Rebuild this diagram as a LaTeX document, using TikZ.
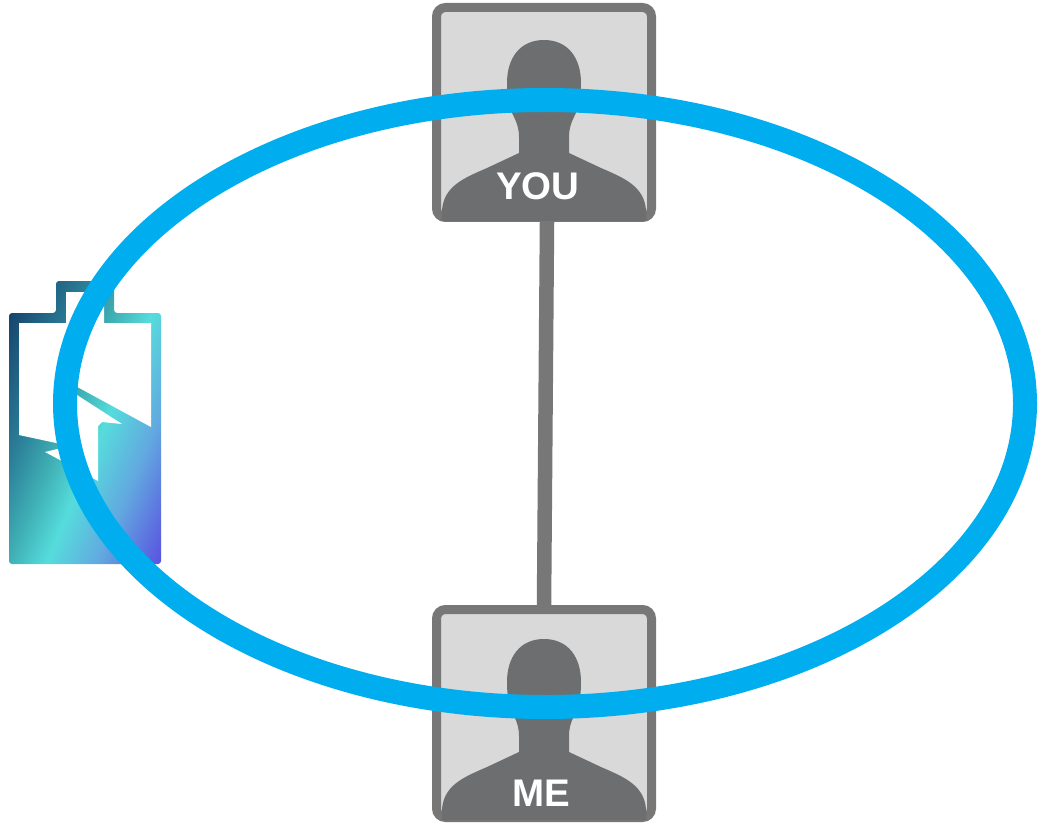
\documentclass[tikz,border=0pt]{standalone}
\usepackage{fontspec}
\setmainfont{Liberation Sans}

\definecolor{frameGray}{HTML}{777777}
\definecolor{bodyGray}{HTML}{6D6E70}
\definecolor{panelGray}{HTML}{D9D9D9}
\definecolor{ringBlue}{HTML}{00AEEF}
\definecolor{glowA}{HTML}{17476E}
\definecolor{glowB}{HTML}{2B7F98}
\definecolor{glowC}{HTML}{3FB0B5}
\definecolor{glowD}{HTML}{56DCDC}
\definecolor{glowE}{HTML}{62A8E0}
\definecolor{glowF}{HTML}{5A55E0}

\pgfdeclarehorizontalshading{batteryGlow}{100bp}{
	color(0bp)=(glowA);
	color(32.7bp)=(glowA);
	color(41.6bp)=(glowB);
	color(47.5bp)=(glowC);
	color(53bp)=(glowD);
	color(60.5bp)=(glowE);
	color(69.2bp)=(glowF);
	color(100bp)=(glowF)}

\tikzset{
	profile/.style={rectangle, draw=frameGray, line width=9pt, fill=panelGray, rounded corners=9pt,
		minimum width=215pt, minimum height=210pt, inner sep=0pt},
	tag/.style={text=white, font=\fontsize{38.5}{38.5}\selectfont\bfseries, inner sep=0pt},
	person/.pic={
		\fill[bodyGray] (0,37) .. controls (-24,37) and (-37,55) .. (-37,80)
			.. controls (-37,100) and (-33,108) .. (-30,114)
			.. controls (-27,120) and (-25,126) .. (-25,134)
			-- (-25,150) -- (-57,165) .. controls (-80,175) and (-100,183) .. (-102,207)
			-- (-102,218) -- (102,218) -- (102,207)
			.. controls (100,183) and (80,175) .. (57,165)
			-- (25,150) -- (25,134)
			.. controls (25,126) and (27,120) .. (30,114)
			.. controls (33,108) and (37,100) .. (37,80)
			.. controls (37,55) and (24,37) .. (0,37) -- cycle;
	}
}

\begin{document}
\begin{tikzpicture}[x=1pt,y=-1pt]

	\useasboundingbox (0,0) rectangle (1038,826);

	% battery
	\begin{scope}[rounded corners=3pt]
		\clip (9,313) -- (56,313) -- (56,281) -- (114,281) -- (114,313) -- (161,313)
			-- (161,564) -- (9,564) -- cycle;
		\shade[shading=batteryGlow, shading angle=-23] (-75,263) rectangle (245,583);
	\end{scope}
	\fill[white] (19,323) -- (66,323) -- (66,292) -- (104,292) -- (104,323) -- (151,323)
		-- (151,427) -- (70,383) -- (70,446) -- (19,435) -- cycle;
	\fill[white] (70,390) -- (77,395) -- (122,424) -- (102,422) -- (98,426) -- (98,481)
		-- (60,460) -- (45,452) -- (70,446) -- cycle;

	\node (you) [profile] at (544,112.5) {};
	\node (me) [profile, minimum height=208pt] at (544,713.5) {};
	\pic at (544,3) {person};
	\pic at (544,602) {person};
	\node (youtag) [tag] at (538,186) {YOU};
	\node (metag) [tag] at (541,793) {ME};

	\path[frameGray, line width=14.5pt]
	([xshift=3pt]you.south) edge (me.north);

	\draw[ringBlue, line width=24pt] (545,403.5) ellipse [x radius=480, y radius=303.5];

\end{tikzpicture}
\end{document}
